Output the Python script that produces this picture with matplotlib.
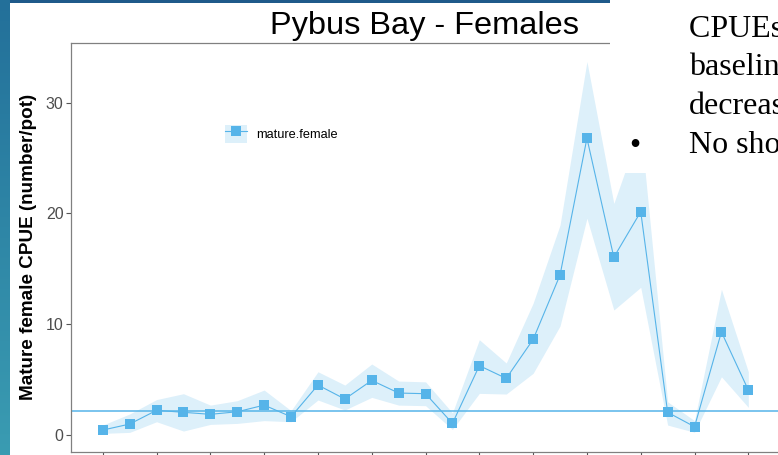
import matplotlib
matplotlib.use("Agg")
import matplotlib.pyplot as plt
import numpy as np
from matplotlib.patches import Rectangle, Patch
from matplotlib.lines import Line2D

# Mature female CPUE by survey (Pybus Bay), with confidence band and baseline
survey = list(range(1, 26))
cpue = [0.45, 0.99, 2.23, 2.05, 1.87, 2.10, 2.70, 1.65, 4.51, 3.25, 4.93, 3.79, 3.73,
        1.05, 6.26, 5.11, 8.63, 14.44, 26.78, 16.04, 20.15, 2.05, 0.75, 9.30, 4.06]
upper = [0.90, 1.90, 3.20, 3.73, 2.70, 3.10, 4.06, 2.20, 5.71, 4.51, 6.41, 4.87, 4.80,
         2.00, 8.60, 6.50, 11.90, 18.95, 33.70, 20.90, 27.80, 3.00, 1.30, 13.15, 5.71]
lower = [0.15, 0.24, 1.20, 0.36, 0.96, 1.05, 1.30, 1.20, 3.16, 2.26, 3.40, 2.70, 2.65,
         0.50, 3.76, 3.70, 5.57, 9.84, 19.56, 11.28, 13.33, 0.90, 0.25, 5.26, 2.50]
baseline = 2.2
y_ticks = [0, 10, 20, 30]
series_label = "mature.female"

W, H = 778, 455
BLUE = "#56B4E9"

fig = plt.figure(figsize=(W / 100, H / 100), dpi=100)
fig.patch.set_facecolor("white")


def fx(px):
    return px / W


def fy(py):
    return 1 - py / H


ax = fig.add_axes([fx(70.5), fy(452), fx(780.6) - fx(70.5), fy(42.7) - fy(452)])

x = np.array(survey)
ax.fill_between(x, lower, upper, color=BLUE, alpha=0.2, linewidth=0, zorder=1)
ax.axhline(baseline, color=BLUE, lw=1.1, zorder=2)
ax.plot(x, cpue, color=BLUE, lw=0.8, marker="s", markersize=6.6,
        markeredgewidth=0, zorder=3)

ax.set_xlim(survey[0] - 1.2, survey[-1] + 1.2)
ax.set_ylim(-1.53, 35.4)
ax.set_xticks(survey[::2])
ax.set_xticklabels([""] * len(survey[::2]))
ax.set_yticks(y_ticks)
ax.set_yticklabels([str(v) for v in y_ticks], fontsize=11.5,
                   family="Liberation Sans", color="#4D4D4D")
ax.tick_params(axis="both", length=3.5, width=0.8, color="#555555", pad=1.5)
for s in ax.spines.values():
    s.set_color("#808080")
    s.set_linewidth(0.9)
ax.set_ylabel("Mature female CPUE (number/pot)", fontsize=13.6,
              family="Liberation Sans", fontweight="bold", labelpad=6)

handle = (Patch(facecolor=BLUE, alpha=0.2, edgecolor="none"),
          Line2D([], [], color=BLUE, lw=0.8, marker="s", markersize=6.6,
                 markeredgewidth=0))
ax.legend([handle], [series_label], loc="upper left",
          bbox_to_anchor=(fx(225), fy(125)), bbox_transform=fig.transFigure,
          frameon=False, borderpad=0, borderaxespad=0, handlelength=1.75,
          handleheight=1.75, handletextpad=0.7,
          prop={"family": "Liberation Sans", "size": 9.2})

# Slide decoration: side strip, header bar, text box
grad = np.linspace(0, 1, 256).reshape(-1, 1)
side = fig.add_axes([0, 0, fx(10), 1])
side.imshow(grad, aspect="auto", cmap=matplotlib.colors.LinearSegmentedColormap.from_list(
    "side", ["#23709A", "#3A9CB2"]), extent=[0, 1, 0, 1])
side.set_axis_off()

fig.patches.append(Rectangle((fx(10), fy(3)), fx(610) - fx(10), fy(0) - fy(3),
                             transform=fig.transFigure, facecolor="#1F5A8A",
                             edgecolor="none", zorder=5))
fig.patches.append(Rectangle((fx(610), fy(173)), 1 - fx(610), 1 - fy(173),
                             transform=fig.transFigure, facecolor="white",
                             edgecolor="none", zorder=5))

fig.text(fx(270), fy(34), "Pybus Bay - Females", fontsize=23.4,
         family="Liberation Sans", va="baseline", ha="left", zorder=6)

serif = {"family": "Liberation Serif", "fontsize": 23, "va": "baseline",
         "ha": "left", "zorder": 6}
fig.text(fx(689), fy(37), "CPUEs above", **serif)
fig.text(fx(689), fy(75), "baseline, but", **serif)
fig.text(fx(689), fy(114), "decreasing", **serif)
fig.text(fx(629.5), fy(154), "\u2022", **serif)
fig.text(fx(689), fy(153), "No show", **serif)

fig.savefig("out.png", dpi=100)
